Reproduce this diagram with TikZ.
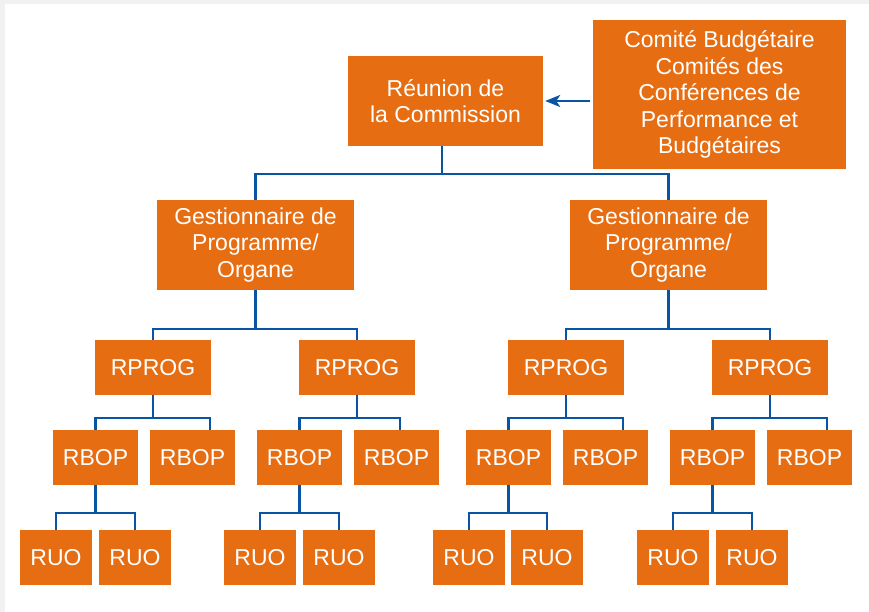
\documentclass[tikz,border=0pt]{standalone}
\usepackage{fontspec}
\setmainfont{Liberation Sans}
\usetikzlibrary{arrows.meta}
\definecolor{boxorange}{HTML}{E76D12}
\definecolor{linkblue}{HTML}{0A55A3}
\definecolor{pagegrey}{HTML}{F1F1F1}
\tikzset{
  box/.style={rectangle, fill=boxorange, text=white, inner sep=0pt, align=center,
    font=\fontsize{23}{26.5}\selectfont},
  toplvl/.style={box, minimum width=195pt, minimum height=90pt},
  comitebox/.style={box, minimum width=253pt, minimum height=149pt},
  gestbox/.style={box, minimum width=197pt, minimum height=90pt},
  progbox/.style={box, minimum width=116pt, minimum height=55pt},
  bopbox/.style={box, minimum width=85pt, minimum height=55pt},
  uobox/.style={box, minimum width=72pt, minimum height=55pt},
  conn/.style={draw=linkblue, line width=2.2pt},
  arrowconn/.style={conn, -{Stealth[length=15pt, width=12pt, inset=4pt]}}
}
\newcommand{\fork}[4]{% parent, left child, right child pos, bar y
  \draw[conn] (#1.south) -- (#1.south |- 0,#4);
  \draw[conn] (#2.north) -- (#2.north |- 0,#4) -- (#3 |- 0,#4) -- (#3);
}
\begin{document}
\begin{tikzpicture}[x=1pt, y=-1pt]
\fill[pagegrey] (0,0) rectangle (869,612);
\fill[white] (5,4) rectangle (869,612);
\useasboundingbox (0,0) rectangle (869,612);

% top level
\node[toplvl] (reunion) at (445.5,101) {Réunion de\\la Commission};
\node[comitebox] (comite) at (719.5,94.5) {Comité Budgétaire\\Comités des\\Conférences de\\Performance et\\Budgétaires};

% level 2
\node[gestbox] (g1) at (255.5,245) {Gestionnaire de\\Programme/\\Organe};
\node[gestbox] (g2) at (668.5,245) {Gestionnaire de\\Programme/\\Organe};

% level 3
\node[progbox] (p1) at (153,367.5) {RPROG};
\node[progbox] (p2) at (357,367.5) {RPROG};
\node[progbox] (p3) at (566,367.5) {RPROG};
\node[progbox] (p4) at (770,367.5) {RPROG};

% level 4
\node[bopbox] (b1) at (95.5,457.5) {RBOP};
\node[bopbox] (b2) at (192.5,457.5) {RBOP};
\node[bopbox] (b3) at (299.5,457.5) {RBOP};
\node[bopbox] (b4) at (396.5,457.5) {RBOP};
\node[bopbox] (b5) at (508.5,457.5) {RBOP};
\node[bopbox] (b6) at (605.5,457.5) {RBOP};
\node[bopbox] (b7) at (712.5,457.5) {RBOP};
\node[bopbox] (b8) at (809.5,457.5) {RBOP};

% level 5
\node[uobox] (u1) at (56,557.5) {RUO};
\node[uobox] (u2) at (135,557.5) {RUO};
\node[uobox] (u3) at (260,557.5) {RUO};
\node[uobox] (u4) at (339,557.5) {RUO};
\node[uobox] (u5) at (469,557.5) {RUO};
\node[uobox] (u6) at (547,557.5) {RUO};
\node[uobox] (u7) at (673,557.5) {RUO};
\node[uobox] (u8) at (752,557.5) {RUO};

% arrow from comite to reunion
\draw[arrowconn] ([xshift=-3pt]comite.west |- reunion.east) -- ([xshift=2pt]reunion.east);

% reunion -> gestionnaires
\coordinate (j0) at (442,174);
\draw[conn] ([xshift=-3.5pt]reunion.south) -- (j0);
\draw[conn] (g1.north) -- (g1.north |- j0) -- (g2.north |- j0) -- (g2.north);

% gestionnaires -> RPROG
\fork{g1}{p1}{p2.north}{329}
\fork{g2}{p3}{p4.north}{329}

% RPROG -> RBOP
\fork{p1}{b1}{[xshift=17.5pt]b2.north}{418}
\fork{p2}{b3}{[xshift=3.5pt]b4.north}{418}
\fork{p3}{b5}{[xshift=17.5pt]b6.north}{418}
\fork{p4}{b7}{[xshift=17.5pt]b8.north}{418}

% RBOP -> RUO
\fork{b1}{u1}{u2.north}{513}
\fork{b3}{u3}{u4.north}{513}
\fork{b5}{u5}{u6.north}{513}
\fork{b7}{u7}{u8.north}{513}
\end{tikzpicture}
\end{document}
